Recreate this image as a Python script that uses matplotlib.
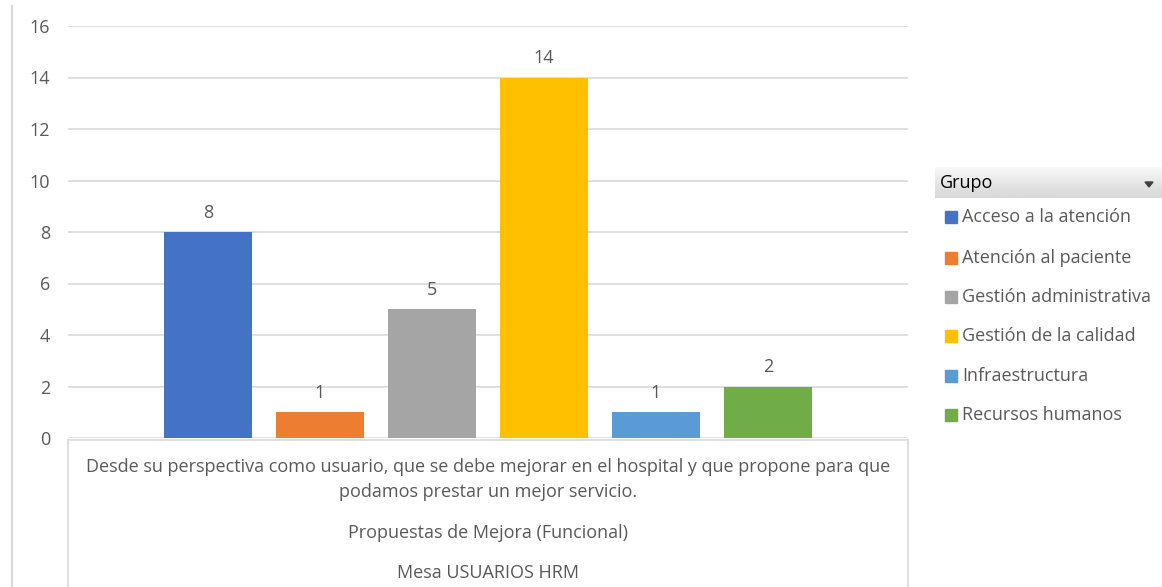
import numpy as np
import matplotlib
matplotlib.use('Agg')
import matplotlib.pyplot as plt
from matplotlib.patches import Rectangle, Polygon
from matplotlib.lines import Line2D

plt.rcParams['font.family'] = ['Open Sans', 'DejaVu Sans']

# --- data ---
grupos = ['Acceso a la atención', 'Atención al paciente', 'Gestión administrativa',
          'Gestión de la calidad', 'Infraestructura', 'Recursos humanos']
valores = [8, 1, 5, 14, 1, 2]
cols = ['#4472C4', '#ED7D31', '#A5A5A5', '#FFC000', '#5B9BD5', '#70AD47']
yticks = [0, 2, 4, 6, 8, 10, 12, 14, 16]
cat_lines = ['Desde su perspectiva como usuario, que se debe mejorar en el hospital y que propone para que',
             'podamos prestar un mejor servicio.']
nivel2 = 'Propuestas de Mejora (Funcional)'
nivel3 = 'Mesa USUARIOS HRM'

txt = '#595959'
grid = '#D9D9D9'
fs = 13
W, H = 1162, 587

fig = plt.figure(figsize=(W / 100, H / 100), dpi=100)
# plot area in pixels: x 68..908, y 26..438 (top origin)
ax = fig.add_axes([68 / W, 1 - 438 / H, (908 - 68) / W, (438 - 26) / H])

x = np.arange(len(valores))
bars = ax.bar(x, valores, width=0.786, color=cols, zorder=3)
for xi, v in zip(x, valores):
    ax.text(xi, v + 0.4, str(v), ha='center', va='bottom', fontsize=fs, color=txt)

ax.set_xlim(-1.25, 6.25)
ax.set_ylim(0, 16)
ax.set_yticks(yticks)
ax.set_xticks([])
ax.yaxis.grid(True, color=grid, lw=1.2, zorder=0)
for s in ax.spines.values():
    s.set_visible(False)
ax.tick_params(axis='y', length=0, pad=13, labelsize=fs, labelcolor=txt)


def fx(px):
    return px / W


def fy(py):
    return 1 - py / H


# category box below the axis
fig.add_artist(Line2D([fx(68), fx(908)], [fy(440), fy(440)], color=grid, lw=1.2))
fig.add_artist(Line2D([fx(68), fx(68)], [fy(440), 0], color=grid, lw=1.2))
fig.add_artist(Line2D([fx(908), fx(908)], [fy(440), 0], color=grid, lw=1.2))
fig.add_artist(Line2D([fx(12), fx(12)], [fy(6), 0], color=grid, lw=1.5))

fig.text(fx(488), fy(467), cat_lines[0], ha='center', va='center', fontsize=fs, color=txt)
fig.text(fx(488), fy(492), cat_lines[1], ha='center', va='center', fontsize=fs, color=txt)
fig.text(fx(488), fy(533), nivel2, ha='center', va='center', fontsize=fs, color=txt)
fig.text(fx(488), fy(573), nivel3, ha='center', va='center', fontsize=fs, color=txt)

# legend header "Grupo"
hax = fig.add_axes([fx(935), fy(198), fx(1162 - 935), (198 - 167) / H])
grad = np.linspace(0.97, 0.84, 50).reshape(-1, 1)
hax.imshow(grad, aspect='auto', cmap='gray', vmin=0, vmax=1, extent=[0, 1, 0, 1])
hax.set_axis_off()
fig.text(fx(940), fy(183), 'Grupo', ha='left', va='center', fontsize=fs, color='#000000')
fig.add_artist(Polygon([[fx(1145), fy(182)], [fx(1153), fy(182)], [fx(1149), fy(187)]],
                       closed=True, color='#404040'))

# legend entries
ys = [217, 258, 297, 336, 376, 415]
for yy, g, c in zip(ys, grupos, cols):
    fig.add_artist(Rectangle((fx(945), fy(yy + 6)), 12 / W, 12 / H, color=c))
    fig.text(fx(962), fy(yy), g, ha='left', va='center', fontsize=fs, color=txt)

fig.savefig('out.png', dpi=100)
